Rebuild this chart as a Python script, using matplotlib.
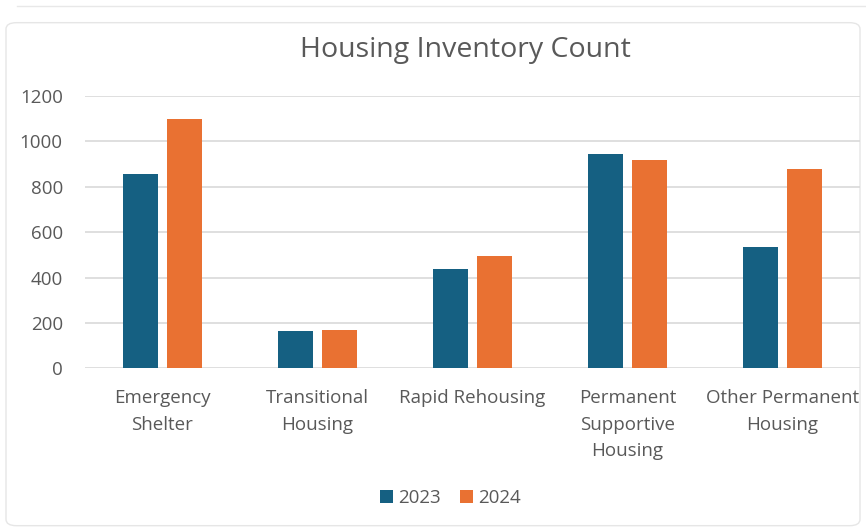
import matplotlib
matplotlib.use("Agg")
import matplotlib.pyplot as plt
import numpy as np
from matplotlib.patches import FancyBboxPatch

categories = ["Emergency\nShelter", "Transitional\nHousing", "Rapid Rehousing",
              "Permanent\nSupportive\nHousing", "Other Permanent\nHousing"]
values_2023 = [858, 164, 439, 943, 536]
values_2024 = [1100, 169, 494, 918, 877]
series_labels = ["2023", "2024"]
yticks = [0, 200, 400, 600, 800, 1000, 1200]

blue = "#156082"
orange = "#E97132"
grey = "#595959"

plt.rcParams['font.family'] = ['Open Sans', 'DejaVu Sans']

fig = plt.figure(figsize=(8.66, 5.31), dpi=100)
fig.patch.set_facecolor("white")
# chart frame
frame = FancyBboxPatch((6/866, 0.01), 1 - 12/866, 1 - 28/531, boxstyle="round,pad=0,rounding_size=0.012",
                       transform=fig.transFigure, facecolor="none", edgecolor="#E6E6E6", lw=1.0,
                       zorder=-10)
fig.patches.append(frame)
fig.add_artist(plt.Line2D([0.02, 1.0], [1 - 6/531, 1 - 6/531], transform=fig.transFigure,
                          color="#E8E8E8", lw=1, zorder=-10))

ax = fig.add_axes([85/866, 1 - 368.3/531, 775/866, (368.3 - 96) / 531])
ax.patch.set_alpha(0)
x = np.arange(len(categories))
w = 0.226
gap = 0.058
ax.bar(x - (w + gap) / 2, values_2023, w, color=blue, label=series_labels[0], zorder=3)
ax.bar(x + (w + gap) / 2, values_2024, w, color=orange, label=series_labels[1], zorder=3)

ax.set_xlim(-0.5, len(categories) - 0.5)
ax.set_ylim(0, 1200)
ax.set_yticks(yticks)
ax.set_yticklabels([str(v) for v in yticks], fontsize=13.5, color=grey)
ax.set_xticks(x)
ax.set_xticklabels(categories, fontsize=13.5, color=grey, linespacing=1.6)
ax.tick_params(axis='both', length=0)
ax.tick_params(axis='y', pad=16)
ax.tick_params(axis='x', pad=15)
ax.grid(axis='y', color="#D9D9D9", lw=1.2, zorder=0)
for s in ax.spines.values():
    s.set_visible(False)

fig.text(0.537, 1 - 50/531, "Housing Inventory Count", ha="center", va="center", fontsize=20.5,
         color=grey, family=['Open Sans', 'DejaVu Sans'])

leg = fig.legend(loc="center", bbox_to_anchor=(0.520, 1 - 498/531), ncol=2, frameon=False,
                 fontsize=13.5, handlelength=0.7, handleheight=0.7, handletextpad=0.3,
                 columnspacing=1.0)
for t in leg.get_texts():
    t.set_color(grey)

fig.savefig("out.png", dpi=100, facecolor="white")
